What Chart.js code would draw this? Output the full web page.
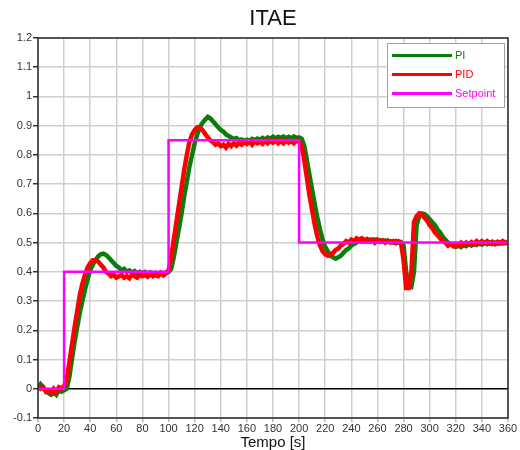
<!DOCTYPE html>
<html>
<head>
<meta charset="utf-8">
<script src="https://cdn.jsdelivr.net/npm/chart.js@4.4.0/dist/chart.umd.min.js"></script>
<style>
  html, body { margin: 0; padding: 0; background: #fff; }
  canvas { display: block; }
</style>
</head>
<body>
<canvas id="chart" width="520" height="450"></canvas>
<script>
// Sample spacing of the recorded responses, in seconds
const sampleStep = 2;

// Process output with the PI controller (one value every 2 s, 0..360 s)
const piResponse = [
  0.0, 0.015, 0.005, -0.005, -0.015, -0.02, -0.01, -0.02, -0.005, -0.01,
  -0.005, 0.0, 0.04, 0.1, 0.16, 0.21, 0.26, 0.3, 0.34, 0.375,
  0.405, 0.425, 0.44, 0.452, 0.46, 0.462, 0.458, 0.45, 0.44, 0.43,
  0.42, 0.415, 0.405, 0.41, 0.4, 0.405, 0.398, 0.403, 0.395, 0.4,
  0.395, 0.4, 0.393, 0.398, 0.392, 0.397, 0.392, 0.398, 0.393, 0.398,
  0.4, 0.41, 0.45, 0.5, 0.55, 0.6, 0.66, 0.71, 0.76, 0.8,
  0.84, 0.87, 0.895, 0.91, 0.92, 0.93, 0.925, 0.915, 0.905, 0.895,
  0.885, 0.88, 0.87, 0.865, 0.86, 0.855, 0.858, 0.85, 0.853, 0.848,
  0.852, 0.848, 0.855, 0.85, 0.856, 0.852, 0.858, 0.853, 0.86, 0.855,
  0.862, 0.857, 0.862, 0.858, 0.863, 0.858, 0.862, 0.857, 0.863, 0.858,
  0.86, 0.855, 0.83, 0.78, 0.73, 0.68, 0.63, 0.585, 0.545, 0.51,
  0.485, 0.47, 0.455, 0.45, 0.445, 0.45, 0.455, 0.465, 0.475, 0.48,
  0.49, 0.495, 0.5, 0.505, 0.505, 0.51, 0.505, 0.51, 0.505, 0.51,
  0.505, 0.508, 0.503, 0.507, 0.502, 0.505, 0.5, 0.505, 0.5, 0.502,
  0.49, 0.4, 0.355, 0.35, 0.4, 0.56, 0.59, 0.6, 0.598, 0.59,
  0.58, 0.57, 0.56, 0.545, 0.535, 0.52, 0.51, 0.5, 0.495, 0.49,
  0.485, 0.49, 0.485, 0.492, 0.488, 0.495, 0.49, 0.497, 0.492, 0.498,
  0.493, 0.5, 0.495, 0.5, 0.495, 0.5, 0.496, 0.502, 0.497, 0.502,
  0.498
];

// Process output with the PID controller (one value every 2 s, 0..360 s)
const pidResponse = [
  0.01, 0.0, 0.005, -0.01, -0.005, -0.015, 0.0, -0.01, 0.005, 0.0,
  0.01, 0.03, 0.09, 0.15, 0.21, 0.265, 0.32, 0.36, 0.39, 0.415,
  0.43, 0.44, 0.44, 0.435, 0.425, 0.415, 0.4, 0.395, 0.385, 0.39,
  0.38, 0.385, 0.39, 0.38, 0.385, 0.378, 0.39, 0.385, 0.38, 0.39,
  0.385, 0.39, 0.383, 0.392, 0.385, 0.39, 0.385, 0.395, 0.388, 0.395,
  0.405, 0.45, 0.51, 0.57, 0.63, 0.69, 0.75, 0.8, 0.845, 0.87,
  0.885, 0.895, 0.893, 0.885, 0.872, 0.86, 0.85, 0.843, 0.835, 0.84,
  0.83, 0.835, 0.825, 0.838, 0.83, 0.84, 0.832, 0.842, 0.835, 0.845,
  0.838, 0.845, 0.835, 0.848, 0.84, 0.845, 0.838, 0.85, 0.84, 0.848,
  0.842, 0.85, 0.84, 0.848, 0.84, 0.85, 0.842, 0.848, 0.84, 0.85,
  0.845, 0.83, 0.78, 0.72, 0.66, 0.61, 0.56, 0.52, 0.49, 0.47,
  0.46, 0.455, 0.46, 0.465, 0.475, 0.48, 0.49, 0.495, 0.505, 0.5,
  0.51, 0.505, 0.515, 0.51, 0.515, 0.505, 0.512, 0.505, 0.51, 0.5,
  0.51, 0.503, 0.508, 0.5, 0.507, 0.5, 0.505, 0.498, 0.505, 0.5,
  0.44, 0.345, 0.345, 0.4, 0.57, 0.59, 0.6, 0.595, 0.585, 0.575,
  0.56, 0.55, 0.535, 0.525, 0.515, 0.505, 0.5, 0.49, 0.495, 0.488,
  0.495, 0.49, 0.5, 0.492, 0.5, 0.495, 0.502, 0.495, 0.505, 0.497,
  0.505, 0.498, 0.505, 0.497, 0.503, 0.495, 0.503, 0.497, 0.505, 0.498,
  0.5
];

// Reference signal: step changes at 20, 100 and 200 s
const setpointTimes  = [0, 20, 20, 100, 100, 200, 200, 360];
const setpointValues = [0, 0, 0.4, 0.4, 0.85, 0.85, 0.5, 0.5];

// Axis ticks
const timeTicks = [0, 20, 40, 60, 80, 100, 120, 140, 160, 180, 200, 220, 240, 260, 280, 300, 320, 340, 360];
const valueTicks = [-0.1, 0, 0.1, 0.2, 0.3, 0.4, 0.5, 0.6, 0.7, 0.8, 0.9, 1, 1.1, 1.2];

const toPoints = (values) => values.map((v, i) => ({ x: i * sampleStep, y: v }));
const setpointPoints = setpointTimes.map((t, i) => ({ x: t, y: setpointValues[i] }));

const FONT = "'Liberation Sans', Arial, sans-serif";

// Dark frame around the plotting area
const framePlugin = {
  id: 'plotFrame',
  afterDatasetsDraw(chart) {
    const { ctx, chartArea: a } = chart;
    ctx.save();
    ctx.strokeStyle = '#2a2a2a';
    ctx.lineWidth = 1.5;
    ctx.strokeRect(a.left, a.top, a.right - a.left, a.bottom - a.top);
    ctx.restore();
  }
};

// Legend box drawn inside the plot, top-right corner
const insetLegendPlugin = {
  id: 'insetLegend',
  afterDraw(chart) {
    const { ctx, chartArea: a } = chart;
    const boxW = 118, boxH = 65;
    const bx = a.right - 121, by = a.top + 5;
    ctx.save();
    ctx.fillStyle = '#ffffff';
    ctx.fillRect(bx, by, boxW, boxH);
    ctx.strokeStyle = '#a0a0a0';
    ctx.lineWidth = 1;
    ctx.strokeRect(bx + 0.5, by + 0.5, boxW - 1, boxH - 1);
    ctx.font = '11px ' + FONT;
    ctx.textBaseline = 'middle';
    ctx.textAlign = 'left';
    chart.data.datasets.forEach((ds, i) => {
      const y = by + 12.5 + i * 19;
      ctx.strokeStyle = ds.borderColor;
      ctx.lineWidth = 3;
      ctx.beginPath();
      ctx.moveTo(bx + 5, y);
      ctx.lineTo(bx + 65, y);
      ctx.stroke();
      ctx.fillStyle = ds.borderColor;
      ctx.fillText(ds.label, bx + 68, y);
    });
    ctx.restore();
  }
};

new Chart(document.getElementById('chart'), {
  type: 'line',
  data: {
    datasets: [
      {
        label: 'PI',
        data: toPoints(piResponse),
        borderColor: '#0b7d0b',
        borderWidth: 4.5,
        pointRadius: 0,
        tension: 0,
        order: 3
      },
      {
        label: 'PID',
        data: toPoints(pidResponse),
        borderColor: '#ff0000',
        borderWidth: 4.5,
        pointRadius: 0,
        tension: 0,
        order: 2
      },
      {
        label: 'Setpoint',
        data: setpointPoints,
        borderColor: '#ff00ff',
        borderWidth: 2.5,
        pointRadius: 0,
        tension: 0,
        order: 1
      }
    ]
  },
  options: {
    responsive: false,
    animation: false,
    devicePixelRatio: 1,
    layout: { padding: { left: 0, right: 12, top: 0, bottom: 0 } },
    plugins: {
      legend: { display: false },
      tooltip: { enabled: false },
      title: {
        display: true,
        text: 'ITAE',
        fullSize: false,
        color: '#111',
        font: { family: FONT, size: 22, weight: 'normal', lineHeight: 1.2 },
        padding: { top: 6, bottom: 5.6 }
      }
    },
    scales: {
      x: {
        type: 'linear',
        min: 0,
        max: 360,
        afterBuildTicks: (scale) => { scale.ticks = timeTicks.map(v => ({ value: v })); },
        afterFit: (scale) => { scale.height = 32; },
        grid: {
          color: '#cfcfcf',
          lineWidth: 1.5,
          tickLength: 4,
          tickColor: '#bbbbbb'
        },
        border: { display: false },
        ticks: {
          color: '#333',
          font: { family: FONT, size: 11 },
          padding: 0,
          maxRotation: 0,
          autoSkip: false,
          callback: (v) => String(v)
        },
        title: {
          display: true,
          text: 'Tempo [s]',
          color: '#111',
          font: { family: FONT, size: 15, lineHeight: 1 },
          padding: { top: 0, bottom: 0 }
        }
      },
      y: {
        type: 'linear',
        min: -0.1,
        max: 1.2,
        afterBuildTicks: (scale) => { scale.ticks = valueTicks.map(v => ({ value: v })); },
        afterFit: (scale) => { scale.width = 38; },
        grid: {
          color: (c) => (c.tick && Math.abs(c.tick.value) < 1e-9 ? '#000000' : '#cfcfcf'),
          lineWidth: 1.5,
          tickLength: 5,
          tickColor: '#333333'
        },
        border: { display: false },
        ticks: {
          color: '#333',
          font: { family: FONT, size: 11 },
          padding: 1,
          autoSkip: false,
          callback: (v) => String(Math.round(v * 10) / 10)
        }
      }
    }
  },
  plugins: [framePlugin, insetLegendPlugin]
});
</script>
</body>
</html>
